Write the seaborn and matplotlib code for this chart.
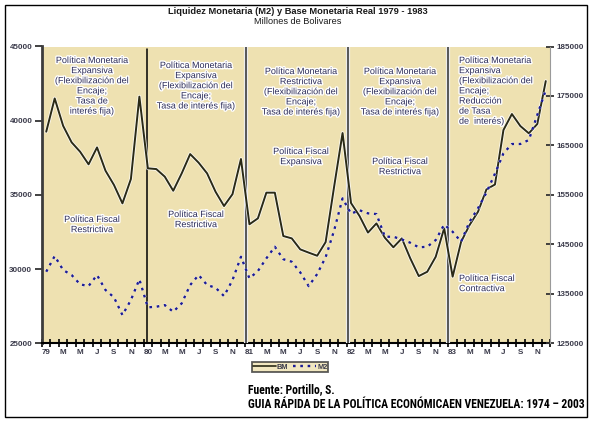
import matplotlib
matplotlib.use("Agg")
import matplotlib.pyplot as plt
import matplotlib.patheffects as pe
from matplotlib.patches import Rectangle
from matplotlib.lines import Line2D
from matplotlib import font_manager
import numpy as np
import pandas as pd
import seaborn as sns

# ---------------- data ----------------
years = ["79", "80", "81", "82", "83"]
month_letters = ["E", "F", "M", "A", "M", "J", "J", "A", "S", "O", "N", "D"]

bm = [
    39260, 41500, 39650, 38540, 37910, 37060, 38200, 36630, 35670, 34430, 36070, 41620,
    36790, 36740, 36230, 35280, 36450, 37750, 37170, 36450, 35210, 34250, 35050, 37420,
    33020, 33420, 35150, 35150, 32230, 32070, 31330, 31110, 30900, 31820, 35550, 39170,
    34450, 33580, 32460, 33080, 32110, 31470, 32070, 30720, 29530, 29820, 30830, 32750,
    29490, 31840, 32970, 33870, 35380, 35700, 39370, 40450, 39640, 39150, 39780, 42670,
]
m2 = [
    139470, 142640, 139810, 138800, 136920, 136570, 138800, 135770, 134290, 130710, 133740, 137930,
    132270, 132390, 132730, 131380, 133070, 136780, 138800, 136780, 136230, 134550, 137780, 142500,
    138130, 139610, 142170, 144520, 142000, 141490, 139340, 136550, 139000, 142400, 147800, 154300,
    151200, 151900, 151270, 151130, 146540, 146540, 146000, 145330, 144400, 144520, 145870, 149000,
    147550, 145530, 149580, 152300, 155500, 159300, 163400, 165290, 165290, 166100, 171150, 176200,
]
left_ticks = [25000, 30000, 35000, 40000, 45000]
right_ticks = [125000, 135000, 145000, 155000, 165000, 175000, 185000]

title = "Liquidez Monetaria (M2) y Base Monetaria Real 1979 - 1983"
subtitle = "Millones de Bolivares"
footer1 = "Fuente: Portillo, S."
footer2 = "GUIA RÁPIDA DE LA POLÍTICA ECONÓMICAEN VENEZUELA: 1974 – 2003"

monetary_notes = [
    "Política Monetaria\nExpansiva\n(Flexibilización del\nEncaje;\nTasa de\ninterés fija)",
    "Política Monetaria\nExpansiva\n(Flexibilización del\nEncaje;\nTasa de interés fija)",
    "Política Monetaria\nRestrictiva\n(Flexibilización del\nEncaje;\nTasa de interés fija)",
    "Política Monetaria\nExpansiva\n(Flexibilización del\nEncaje;\nTasa de interés fija)",
    "Política Monetaria\nExpansiva\n(Flexibilización del\nEncaje;\nReducción\nde Tasa\nde  interés)",
]
fiscal_notes = [
    "Política Fiscal\nRestrictiva",
    "Política Fiscal\nRestrictiva",
    "Política Fiscal\nExpansiva",
    "Política Fiscal\nRestrictiva",
    "Política Fiscal\nContractiva",
]

n = len(bm)
df = pd.DataFrame({"t": np.arange(n), "BM": bm, "M2": m2})
labels = []
for i in range(n):
    labels.append(years[i // 12] if i % 12 == 0 else month_letters[i % 12])

# ---------------- style ----------------
sns.set_style("white")
plt.rcParams["font.family"] = ["Liberation Sans", "DejaVu Sans"]

W, H = 597, 428
fig = plt.figure(figsize=(W / 100, H / 100), dpi=100)
fig.patch.set_facecolor("white")

def fx(px):
    return px / W

def fy(py):
    return 1 - py / H

x0, x1, ytop, ybot = 42, 550, 46.5, 343.3
ax = fig.add_axes([fx(x0), fy(ybot), (x1 - x0) / W, (ybot - ytop) / H])
ax.set_facecolor("#EEE1B1")
ax2 = ax.twinx()

halo_line = [pe.Stroke(linewidth=2.6, foreground="white", alpha=0.8), pe.Normal()]
sns.lineplot(data=df, x="t", y="BM", ax=ax, color="#2a2a16", lw=1.4,
             path_effects=halo_line, zorder=5, legend=False)
sns.lineplot(data=df, x="t", y="M2", ax=ax2, color="#1c1c96", lw=1.7,
             linestyle=(0, (1.1, 2.0)),
             path_effects=[pe.Stroke(linewidth=2.6, foreground="white", alpha=0.6), pe.Normal()],
             zorder=5, legend=False)

ax.set_xlim(-0.5, n - 0.5)
ax.set_ylim(left_ticks[0], left_ticks[-1])
ax2.set_ylim(right_ticks[0], right_ticks[-1])
ax.set_xlabel("")
ax.set_ylabel("")
ax2.set_ylabel("")

# x ticks: boundaries as major ticks, labels at month centres
ax.set_xticks(np.arange(-0.5, n, 1.0))
ax.set_xticklabels([])
ax.set_xticks(np.arange(0, n, 2), minor=True)
ax.set_xticklabels(labels[::2], minor=True)
ax.tick_params(axis="x", which="major", direction="inout", length=6, width=1.2, color="black", bottom=True)
ax.tick_params(axis="x", which="minor", length=0, labelsize=5.8, labelcolor="#3a3a4a", pad=4, bottom=True)
for t in ax.get_xticklabels(minor=True):
    t.set_fontweight("bold")

ax.set_yticks(left_ticks)
ax.set_yticklabels([str(v) for v in left_ticks])
ax.tick_params(axis="y", direction="out", length=5, width=1.3, color="#333333",
               labelsize=5.8, labelcolor="#3a3a4a", pad=2, left=True)
ax2.set_yticks(right_ticks)
ax2.set_yticklabels([str(v) for v in right_ticks])
ax2.tick_params(axis="y", direction="inout", length=6, width=1.3, color="#333333",
                labelsize=5.8, labelcolor="#3a3a4a", pad=2, right=True)
for t in ax.get_yticklabels() + ax2.get_yticklabels():
    t.set_fontweight("bold")

for a in (ax, ax2):
    for s in ("top", "left", "right", "bottom"):
        a.spines[s].set_visible(False)
    a.grid(False)
ax.spines["left"].set_visible(True)
ax.spines["left"].set_color("#3c3c3c")
ax.spines["left"].set_linewidth(2.0)
ax.spines["bottom"].set_visible(True)
ax.spines["bottom"].set_color("black")
ax.spines["bottom"].set_linewidth(1.5)
ax2.spines["right"].set_visible(True)
ax2.spines["right"].set_color("#9a9a9a")
ax2.spines["right"].set_linewidth(0.8)

# year dividers (annotation positions)
div_pos = [11.94, 23.6, 35.7, 47.45]
ax.axvline(div_pos[0], ymin=0.0, ymax=0.99, color="black", lw=1.1, zorder=4)
for p in div_pos[1:]:
    ax.axvline(p, ymin=0.0, ymax=1.0, color="#5a5a5a", lw=1.6, zorder=4,
               path_effects=[pe.Stroke(linewidth=3.0, foreground="white"), pe.Normal()])

# annotation texts
txt_kw = dict(fontsize=6.5, color="#2b2b58", linespacing=1.16, va="top",
              path_effects=[pe.withStroke(linewidth=2.0, foreground="white")], zorder=10)
mon_pos = [(92, 56, "center"), (196, 61, "center"), (301, 67, "center"), (400, 67, "center"), (459, 56, "left")]
fis_pos = [(92, 215, "center"), (196, 210, "center"), (301, 147, "center"), (400, 157, "center"), (459, 274, "left")]
for (px, py, ha), s in zip(mon_pos, monetary_notes):
    fig.text(fx(px), fy(py), s, ha=ha, multialignment=ha, **txt_kw)
for (px, py, ha), s in zip(fis_pos, fiscal_notes):
    fig.text(fx(px), fy(py), s, ha=ha, multialignment=ha, **txt_kw)

# titles
fig.text(fx(297.5), fy(11), title, ha="center", va="center", fontsize=6.7, fontweight="bold", color="#1a1a1a")
fig.text(fx(298), fy(21), subtitle, ha="center", va="center", fontsize=6.6, color="#1a1a1a")

# legend
handles = [Line2D([], [], color="#2a2a16", lw=1.2),
           Line2D([], [], color="#1c1c96", lw=1.7, linestyle=(0, (1.1, 2.0)))]
leg = fig.legend(handles, ["BM", "M2"], loc="center", bbox_to_anchor=(fx(290), fy(367)),
                 ncol=2, fontsize=5.3, frameon=True, fancybox=False, handlelength=3.2,
                 handletextpad=0.1, columnspacing=0.6, borderpad=0.15, borderaxespad=0)
leg.get_frame().set_facecolor("#EEE1B1")
leg.get_frame().set_edgecolor("#333333")
leg.get_frame().set_linewidth(1.3)
for t in leg.get_texts():
    t.set_color("#3a3a4a")
    t.set_fontweight("bold")

# footer: prefer a narrow family if installed, fit to the reference width
installed = {f.name for f in font_manager.fontManager.ttflist}
narrow = None
for cand in ["Liberation Sans Narrow", "Arial Narrow", "DejaVu Sans Condensed", "Roboto Condensed"]:
    if cand in installed:
        narrow = cand
        break
foot_family = [narrow, "DejaVu Sans"] if narrow else ["Liberation Sans", "DejaVu Sans"]
foot_kw = dict(ha="left", va="center", fontweight="bold", color="black", family=foot_family)
f1 = fig.text(fx(248), fy(390), footer1, fontsize=8.6, **foot_kw)
f2 = fig.text(fx(248), fy(405), footer2, fontsize=8.6, **foot_kw)
renderer = fig.canvas.get_renderer()
target_w = 582 - 248
w2 = f2.get_window_extent(renderer).width
scale = target_w / w2
new_size = min(8.6, 8.6 * scale)
f2.set_fontsize(new_size)
f1.set_fontsize(new_size)

# outer frame
fig.patches.append(Rectangle((fx(5), fy(417)), (587 - 5) / W, (417 - 5) / H,
                             transform=fig.transFigure, fill=False, edgecolor="black", lw=1.0))

fig.savefig("out.png", dpi=100)
